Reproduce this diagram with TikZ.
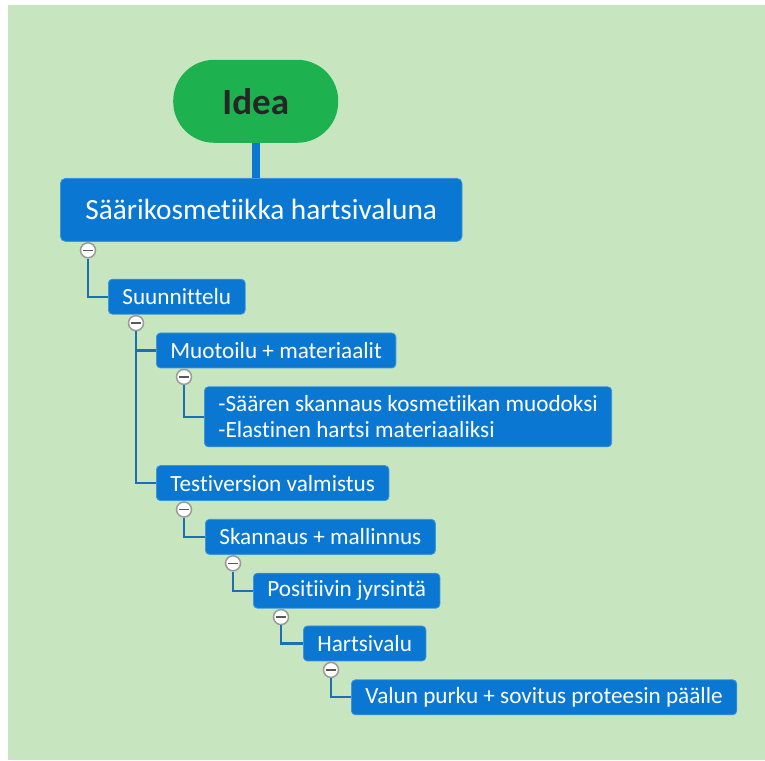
\documentclass[tikz,border=0pt]{standalone}
\usepackage{fontspec}
\setmainfont{Carlito}[Ligatures=NoCommon]
\usetikzlibrary{positioning,calc}
\definecolor{sininen}{HTML}{0A78D2}
\definecolor{sininenR}{HTML}{3D95DC}
\definecolor{viivaS}{HTML}{1C6FB5}
\definecolor{vihrea}{HTML}{1DB24F}
\definecolor{tausta}{HTML}{C7E6BF}
\definecolor{harmaaC}{HTML}{9A9A9A}
\tikzset{
  laatikko/.style={rectangle, rounded corners=4pt, draw=sininenR, line width=0.8pt, fill=sininen,
                   text=white, align=left, font=\fontsize{23.2}{26}\selectfont,
                   inner xsep=14pt, minimum height=35pt},
  paalaatikko/.style={laatikko, rounded corners=5pt, font=\fontsize{29.3}{34}\selectfont,
                      inner xsep=25pt, minimum height=63pt},
  pilleri/.style={rectangle, rounded corners=41pt, fill=vihrea, text=black!85,
                  font=\fontsize{37}{44}\selectfont\bfseries, minimum width=165pt, minimum height=83pt},
  nappi/.style={circle, draw=harmaaC, line width=1.5pt, fill=white, minimum size=15pt, inner sep=0pt,
                path picture={\draw[black!65, line width=1.3pt]
                  ([xshift=-5pt]path picture bounding box.center) -- ([xshift=5pt]path picture bounding box.center);}},
  viiva/.style={draw=viivaS, line width=2.3pt},
}

\begin{document}
\begin{tikzpicture}[x=1pt, y=1pt, node distance=18pt]
        \fill[white] (0,0) rectangle (765,760);
        \fill[tausta] (8,0) rectangle (765,755);
        \useasboundingbox (0,0) rectangle (765,760);
        \node[paalaatikko, anchor=north west] (paa) at (60,582) {Säärikosmetiikka hartsivaluna};
        \node[pilleri, above=35pt of paa, xshift=-5.5pt] (idea) {Idea};
        \draw[draw=sininen, line width=8pt] (idea.south) -- (idea.south |- paa.north);
        \node[laatikko, below right=37pt and 48pt of paa.south west] (suun) {Suunnittelu};
        \node[laatikko, below right=18pt and 48pt of suun.south west] (muot) {Muotoilu + materiaalit};
        \node[laatikko, below right=18pt and 48pt of muot.south west, minimum height=60pt] (tieto)
          {-Säären skannaus kosmetiikan muodoksi\\-Elastinen hartsi materiaaliksi};
        \node[laatikko, below right=18pt and -48pt of tieto.south west] (testi) {Testiversion valmistus};
        \node[laatikko, below right=18pt and 49pt of testi.south west] (skan) {Skannaus + mallinnus};
        \node[laatikko, below right=18pt and 48pt of skan.south west] (posi) {Positiivin jyrsintä};
        \node[laatikko, below right=17pt and 50pt of posi.south west] (hart) {Hartsivalu};
        \node[laatikko, below right=18pt and 48pt of hart.south west] (valu) {Valun purku + sovitus proteesin päälle};
        % taittonapit
        \node[nappi] (n1) at ($(paa.south west)+(28,-8.5)$) {};
        \node[nappi] (n2) at ($(suun.south west)+(28,-8.5)$) {};
        \node[nappi] (n3) at ($(muot.south west)+(28,-8.5)$) {};
        \node[nappi] (n4) at ($(testi.south west)+(28,-8.5)$) {};
        \node[nappi] (n5) at ($(skan.south west)+(28,-8.5)$) {};
        \node[nappi] (n6) at ($(posi.south west)+(28,-8.5)$) {};
        \node[nappi] (n7) at ($(hart.south west)+(28,-8.5)$) {};
        \draw[viiva] (n1.south) |- (suun.west);
        \draw[viiva] (n2.south) |- (muot.west);
        \draw[viiva] (n2.south) |- (testi.west);
        \draw[viiva] (n3.south) |- (tieto.west);
        \draw[viiva] (n4.south) |- (skan.west);
        \draw[viiva] (n5.south) |- (posi.west);
        \draw[viiva] (n6.south) |- (hart.west);
        \draw[viiva] (n7.south) |- (valu.west);
      \end{tikzpicture}
\end{document}
